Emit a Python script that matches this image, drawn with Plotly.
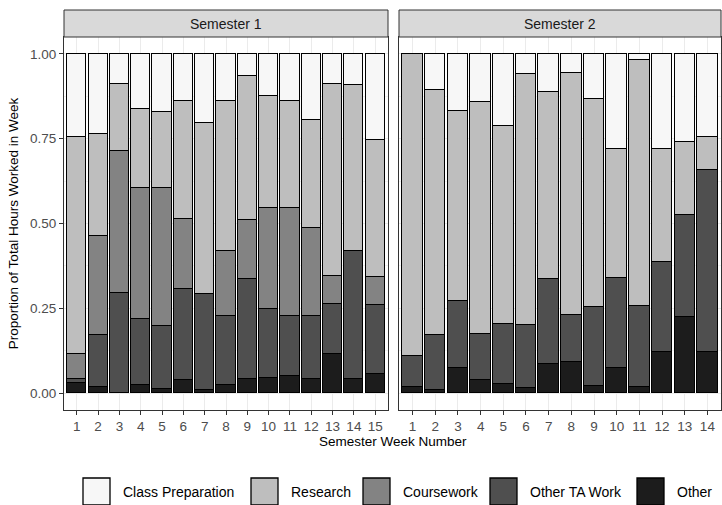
import plotly.graph_objects as go

W, H = 722, 505

weeks1 = list(range(1, 16))
weeks2 = list(range(1, 15))
categories = ["Other", "Other TA Work", "Coursework", "Research", "Class Preparation"]
legend_order = ["Class Preparation", "Research", "Coursework", "Other TA Work", "Other"]
colors = {"Class Preparation": "#F7F7F7", "Research": "#BEBEBE", "Coursework": "#838383",
          "Other TA Work": "#4F4F4F", "Other": "#1C1C1C"}

other1 = [0.031, 0.017, 0.0, 0.024, 0.012, 0.039, 0.009, 0.024, 0.041, 0.044, 0.051, 0.041, 0.115, 0.041, 0.056]
other_ta1 = [0.010, 0.153, 0.296, 0.194, 0.186, 0.269, 0.282, 0.204, 0.294, 0.205, 0.177, 0.185, 0.149, 0.377, 0.204]
coursework1 = [0.074, 0.293, 0.419, 0.386, 0.406, 0.204, 0.0, 0.192, 0.174, 0.297, 0.318, 0.261, 0.081, 0.0, 0.083]
research1 = [0.640, 0.302, 0.197, 0.233, 0.225, 0.348, 0.505, 0.440, 0.426, 0.329, 0.314, 0.317, 0.567, 0.490, 0.404]
class1 = [0.245, 0.235, 0.088, 0.163, 0.171, 0.140, 0.204, 0.140, 0.065, 0.125, 0.140, 0.196, 0.088, 0.092, 0.253]

other2 = [0.019, 0.009, 0.074, 0.038, 0.026, 0.015, 0.087, 0.093, 0.022, 0.075, 0.019, 0.120, 0.224, 0.122]
other_ta2 = [0.091, 0.161, 0.196, 0.136, 0.179, 0.186, 0.250, 0.136, 0.232, 0.265, 0.238, 0.266, 0.302, 0.535]
coursework2 = [0.0, 0.0, 0.0, 0.0, 0.0, 0.0, 0.0, 0.0, 0.0, 0.0, 0.0, 0.0, 0.0, 0.0]
research2 = [0.890, 0.724, 0.562, 0.684, 0.584, 0.739, 0.550, 0.714, 0.614, 0.380, 0.725, 0.334, 0.214, 0.098]
class2 = [0.0, 0.106, 0.168, 0.142, 0.211, 0.060, 0.113, 0.057, 0.132, 0.280, 0.018, 0.280, 0.260, 0.245]

sem1 = {"Other": other1, "Other TA Work": other_ta1, "Coursework": coursework1,
        "Research": research1, "Class Preparation": class1}
sem2 = {"Other": other2, "Other TA Work": other_ta2, "Coursework": coursework2,
        "Research": research2, "Class Preparation": class2}

y_ticks = [0.0, 0.25, 0.5, 0.75, 1.0]
y_ticktext = ["0.00", "0.25", "0.50", "0.75", "1.00"]
panel_titles = ["Semester 1", "Semester 2"]

def px_x(p):
    return p / W

def px_y(p):
    return 1 - p / H

fig = go.Figure()
for cat in categories:
    fig.add_trace(go.Bar(x=weeks1, y=sem1[cat], name=cat, legendgroup=cat, showlegend=False,
                         marker=dict(color=colors[cat], line=dict(color="#000000", width=1.4)),
                         width=0.9, xaxis="x", yaxis="y"))
    fig.add_trace(go.Bar(x=weeks2, y=sem2[cat], name=cat, legendgroup=cat, showlegend=False,
                         marker=dict(color=colors[cat], line=dict(color="#000000", width=1.4)),
                         width=0.9, xaxis="x2", yaxis="y2"))

p1 = (64, 388)
p2 = (399, 721)
ptop, pbot = 37, 410
strip_top = 10

tickfont = dict(family="Liberation Sans, Arial", size=13.5, color="#4D4D4D")
axis_common = dict(showline=True, linecolor="#333333", linewidth=1, mirror=True,
                   ticks="outside", ticklen=4, tickcolor="#333333", automargin=False,
                   tickfont=tickfont,
                   showgrid=True, gridcolor="#EBEBEB", gridwidth=1, zeroline=False)

fig.update_layout(
    width=W, height=H, barmode="stack", bargap=0, showlegend=False,
    plot_bgcolor="white", paper_bgcolor="white",
    margin=dict(l=0, r=0, t=0, b=0, autoexpand=False),
    font=dict(family="Liberation Sans, Arial", color="#000000"),
    xaxis=dict(domain=[px_x(p1[0]), px_x(p1[1])], range=[0.4, 15.6], tickvals=weeks1,
               ticktext=[str(w) for w in weeks1], anchor="y", **axis_common),
    xaxis2=dict(domain=[px_x(p2[0]), px_x(p2[1])], range=[0.4, 14.6], tickvals=weeks2,
                ticktext=[str(w) for w in weeks2], anchor="y2", **axis_common),
    yaxis=dict(domain=[px_y(pbot), px_y(ptop)], range=[-0.05, 1.05], tickvals=y_ticks,
               ticktext=y_ticktext, anchor="x",
               minor=dict(tickvals=[0.125, 0.375, 0.625, 0.875], showgrid=True,
                          gridcolor="#F2F2F2", gridwidth=0.6, ticks=""),
               title=dict(text="Proportion of Total Hours Worked in Week",
                          font=dict(size=13.5, color="#000000"), standoff=8),
               **axis_common),
    yaxis2=dict(domain=[px_y(pbot), px_y(ptop)], range=[-0.05, 1.05], tickvals=y_ticks,
                showticklabels=False, anchor="x2", ticks="", automargin=False,
                minor=dict(tickvals=[0.125, 0.375, 0.625, 0.875], showgrid=True,
                           gridcolor="#F2F2F2", gridwidth=0.6, ticks=""),
                showline=True, linecolor="#333333", linewidth=1, mirror=True,
                showgrid=True, gridcolor="#EBEBEB", gridwidth=1, zeroline=False),
)

shapes = []
annotations = []
for (x0, x1), title in zip([p1, p2], panel_titles):
    shapes.append(dict(type="rect", xref="paper", yref="paper",
                       x0=px_x(x0), x1=px_x(x1), y0=px_y(ptop), y1=px_y(strip_top),
                       fillcolor="#D9D9D9", line=dict(color="#333333", width=1)))
    annotations.append(dict(text=title, xref="paper", yref="paper",
                            x=px_x((x0 + x1) / 2), y=px_y((strip_top + ptop) / 2),
                            showarrow=False, xanchor="center", yanchor="middle",
                            font=dict(size=14, color="#1A1A1A")))
annotations.append(dict(text="Semester Week Number", xref="paper", yref="paper",
                        x=px_x((p1[0] + p2[1]) / 2), y=px_y(441), showarrow=False,
                        xanchor="center", yanchor="middle", font=dict(size=13.5, color="#000000")))

# legend (drawn as keys + labels, ggplot-style large keys)
key_x = [83, 251, 363, 490, 637]
key_size = 27
key_top = 478
for kx, cat in zip(key_x, legend_order):
    shapes.append(dict(type="rect", xref="paper", yref="paper",
                       x0=px_x(kx), x1=px_x(kx + key_size), y0=px_y(key_top + key_size),
                       y1=px_y(key_top), fillcolor=colors[cat],
                       line=dict(color="#000000", width=1.3)))
    annotations.append(dict(text=cat, xref="paper", yref="paper",
                            x=px_x(kx + key_size + 11), y=px_y(492), showarrow=False,
                            xanchor="left", yanchor="middle",
                            font=dict(size=14, color="#000000")))
fig.update_layout(shapes=shapes, annotations=annotations)

fig.write_html("out.html", config={"displayModeBar": False},
               post_script="document.body.style.margin='0px';")
